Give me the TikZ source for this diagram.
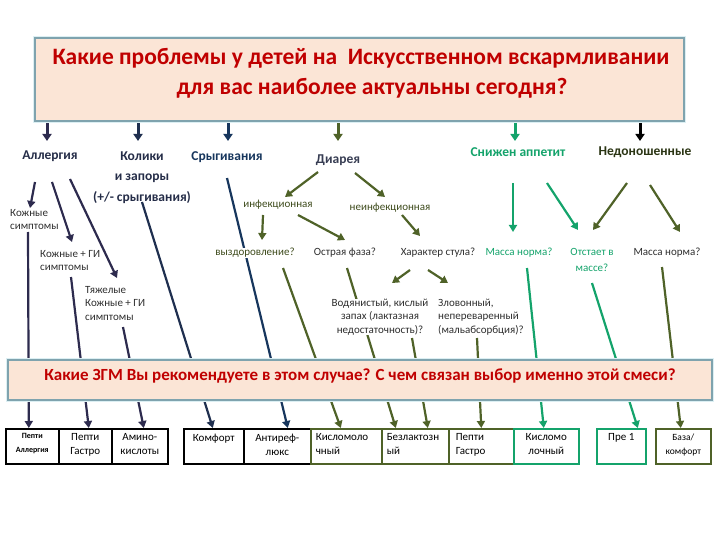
\documentclass[tikz,border=0pt]{standalone}
\usepackage{fontspec}
\setmainfont{Carlito}
\usetikzlibrary{arrows.meta,calc}
\pgfdeclarelayer{background}
\pgfsetlayers{background,main}
\definecolor{titlered}{HTML}{C00000}
\definecolor{boxfill}{HTML}{FBE5D6}
\definecolor{boxline}{HTML}{7FA3AE}
\definecolor{glowc}{HTML}{DCEFF3}
\definecolor{navyA}{HTML}{2D2B4E}
\definecolor{navyB}{HTML}{1F2F4F}
\definecolor{navyC}{HTML}{17365D}
\definecolor{oliveC}{HTML}{4F6228}
\definecolor{greenC}{HTML}{14A36B}
\definecolor{labnavy}{HTML}{252D48}
\definecolor{labdark}{HTML}{2E2E2E}
\definecolor{labolive}{HTML}{3E4B1C}
\newcommand{\cc}[2]{\parbox[t][25pt][t]{#1}{\centering #2}}
\newcommand{\cl}[2]{\parbox[t][25pt][t]{#1}{\raggedright #2}}
\begin{document}
\begin{tikzpicture}[x=1pt,y=-1pt,
  qbox/.style={draw=boxline, fill=boxfill, line width=1.6pt, preaction={draw=glowc, line width=4.5pt}, inner sep=0pt},
  big/.style={font=\fontsize{13.5}{20.5}\selectfont\bfseries, inner sep=1pt, align=center},
  lab/.style={font=\fontsize{11}{13.5}\selectfont, inner sep=1pt, text=labdark},
  cell/.style={anchor=north west, line width=1.6pt, fill=white, minimum height=35pt, inner sep=0pt, font=\fontsize{11}{14}\selectfont},
  toparr/.style={line width=3pt, -{Triangle[width=9pt,length=7pt]}},
  arr/.style={line width=2.2pt, -{Triangle[width=8pt,length=7pt]}}
]
\useasboundingbox (0,0) rectangle (720,540);

% top question
\node[qbox, minimum width=649pt, minimum height=83pt] (q1) at (359.5,79.5) {};
\node[font=\fontsize{23.5}{30}\selectfont\bfseries, text=titlered, align=center] (t1) at (361,73)
  {Какие проблемы у детей на\ \ Искусственном вскармливании\\\hspace*{22pt}для вас наиболее актуальны сегодня?};

% main labels
\node[big, text=labnavy] (allergy) at (50,156) {Аллергия};
\node[big, text=labnavy] (kol) at (142,177.5) {Колики\\и запоры\\(+/- срыгивания)};
\node[big, text=navyC] (sryg) at (227,157) {Срыгивания};
\node[big, text=labnavy!80!gray] (diar) at (338,160) {Диарея};
\node[big, text=greenC] (snizh) at (518,152) {Снижен аппетит};
\node[big, text=labolive!70!black] (nedon) at (645,152) {Недоношенные};

% sub labels
\node[lab, anchor=west, align=left] (kozh) at (9,219.5) {Кожные\\симптомы};
\node[lab, anchor=west, align=left] (kgi) at (39,260.5) {Кожные + ГИ\\симптомы};
\node[lab, anchor=west, align=left] (tyazh) at (84,303.5) {Тяжелые\\Кожные + ГИ\\симптомы};
\node[lab, text=labolive] (infek) at (278,205) {инфекционная};
\node[lab, text=labolive] (neinf) at (390,208) {неинфекционная};
\node[lab, text=labolive, fill=white, inner sep=0pt] (vyzd) at (255,253) {выздоровление?};
\node[lab] (ostr) at (345,253) {Острая фаза?};
\node[lab] (khar) at (438,253) {Характер стула?};
\node[lab, text=greenC] (mass1) at (519,253) {Масса норма?};
\node[lab, text=greenC, align=center, font=\fontsize{11}{16}\selectfont] (otst) at (592,260) {Отстает в\\массе?};
\node[lab] (mass2) at (667,253) {Масса норма?};
\node[lab, align=center, fill=white, inner sep=0pt] (vod) at (380,317) {Водянистый, кислый\\запах (лактазная\\недостаточность)?};
\node[lab, anchor=west, align=left] (zlov) at (437,317) {Зловонный,\\непереваренный\\(мальабсорбция)?};

% second question
\node[qbox, minimum width=704pt, minimum height=40pt] (q2) at (360,380) {};
\node[font=\fontsize{17}{20}\selectfont\bfseries, text=titlered] (t2) at (360,376)
  {Какие ЗГМ Вы рекомендуете в этом случае? С чем связан выбор именно этой смеси?};

% bottom cells
\node[cell, draw=black, minimum width=53pt] (b1) at (5,428) {\cc{49pt}{\fontsize{8}{14}\selectfont\bfseries Пепти\\Аллергия}};
\node[cell, draw=black, minimum width=53pt] (b2) at (58,428) {\cc{49pt}{Пепти\\Гастро}};
\node[cell, draw=black, minimum width=56pt] (b3) at (111,428) {\cc{52pt}{Амино-\\кислоты}};
\node[cell, draw=black, minimum width=60pt] (b4) at (183,428) {\cc{56pt}{Комфорт}};
\node[cell, draw=black, minimum width=67pt] (b5) at (243,428) {\cc{63pt}{Антиреф-\\люкс}};
\node[cell, draw=oliveC, minimum width=71pt] (b6) at (310,428) {\cl{61pt}{Кисломоло\\чный}};
\node[cell, draw=oliveC, minimum width=67pt] (b7) at (381,428) {\cl{57pt}{Безлактозн\\ый}};
\node[cell, draw=oliveC, minimum width=65pt] (b8) at (448,428) {\cl{51pt}{Пепти\\Гастро}};
\node[cell, draw=greenC, minimum width=65pt] (b9) at (513,428) {\cc{61pt}{Кисломо\\лочный}};
\node[cell, draw=greenC, minimum width=49pt] (b10) at (596,428) {\cc{45pt}{Пре 1}};
\node[cell, draw=oliveC, minimum width=55pt] (b11) at (655,428) {\cc{51pt}{\fontsize{9.5}{14}\selectfont База/\\комфорт}};

\begin{pgfonlayer}{background}
% arrows from top box
\draw[toparr, navyA] ($(allergy |- q1.south)+(-3,0)$) -- ($(allergy)+(-3,-15)$);
\draw[toparr, navyB] ($(kol |- q1.south)+(-4,0)$) -- ($(kol)+(-4,-36.5)$);
\draw[toparr, navyC] ($(sryg |- q1.south)+(1,0)$) -- ($(sryg)+(1,-16)$);
\draw[toparr, oliveC] (diar |- q1.south) -- ($(diar)+(0,-19)$);
\draw[toparr, greenC] ($(snizh |- q1.south)+(-3,0)$) -- ($(snizh)+(-3,-11)$);
\draw[toparr, black] ($(nedon |- q1.south)+(-5,0)$) -- ($(nedon)+(-5,-11)$);

% allergy branch
\draw[arr, navyA] ($(allergy)+(-15,26)$) -- ($(kozh.west)+(21,-11.5)$);
\draw[arr, navyA] ($(allergy)+(2,26)$) -- ($(kgi.west)+(33,-18.5)$);
\draw[arr, navyA] ($(allergy)+(20,23)$) -- ($(tyazh.west)+(33,-25.5)$);
\draw[arr, navyA] ($(kozh.west)+(19,12.5)$) -- ($(b1.north)+(-3.5,0)$);
\draw[arr, navyA] ($(kgi.west)+(32,16.5)$) -- ($(b2.north)+(3.5,0)$);
\draw[arr, navyA] ($(tyazh.west)+(39,23.5)$) -- ($(b3.north)+(4,0)$);

% colic, regurgitation
\draw[arr, navyB] ($(kol)+(0,24.5)$) -- ($(b4.north)+(-1,0)$);
\draw[arr, navyC] ($(sryg)+(0,21)$) -- ($(b5.north)+(10.5,0)$);

% diarrhoea branch
\draw[arr, oliveC] ($(diar)+(-20,12)$) -- ($(infek)+(7,-8)$);
\draw[arr, oliveC] ($(diar)+(17,13)$) -- ($(neinf)+(-5,-11)$);
\draw[arr, oliveC] ($(infek)+(-15,10)$) -- ($(vyzd)+(7,-13)$);
\draw[arr, oliveC] ($(infek)+(20,10)$) -- ($(ostr)+(0,-13)$);
\draw[arr, oliveC] ($(neinf)+(12,7)$) -- ($(khar)+(-18,-17)$);
\draw[arr, oliveC] ($(khar)+(-28,17)$) -- ($(vod)+(12,-34)$);
\draw[arr, oliveC] ($(khar)+(-10,17)$) -- ($(zlov.west)+(11,-34)$);
\draw[arr, oliveC] ($(vyzd)+(28,15)$) -- ($(b6.north)+(-5.5,0)$);
\draw[arr, oliveC] ($(ostr)+(2,15)$) -- ($(b7.north)+(-19.5,0)$);
\draw[arr, oliveC] ($(vod)+(32,21)$) -- ($(b7.north)+(12.5,0)$);
\draw[arr, oliveC] ($(zlov.west)+(40,21)$) -- (b8.north);

% appetite / premature
\draw[arr, greenC] ($(snizh)+(-5,31)$) -- ($(mass1)+(-6,-21)$);
\draw[arr, greenC] ($(snizh)+(29,31)$) -- ($(otst)+(-14,-30)$);
\draw[arr, oliveC] ($(nedon)+(-18,31)$) -- ($(otst)+(1,-30)$);
\draw[arr, oliveC] ($(nedon)+(5,33)$) -- ($(mass2)+(13,-21)$);
\draw[arr, greenC] ($(mass1)+(8,15)$) -- ($(b9.north)+(-2.5,0)$);
\draw[arr, greenC] ($(otst)+(0,23)$) -- ($(b10.north)+(16.5,0)$);
\draw[arr, oliveC] ($(mass2)+(-5,14)$) -- ($(b11.north)+(-2.5,0)$);
\end{pgfonlayer}
\end{tikzpicture}
\end{document}
